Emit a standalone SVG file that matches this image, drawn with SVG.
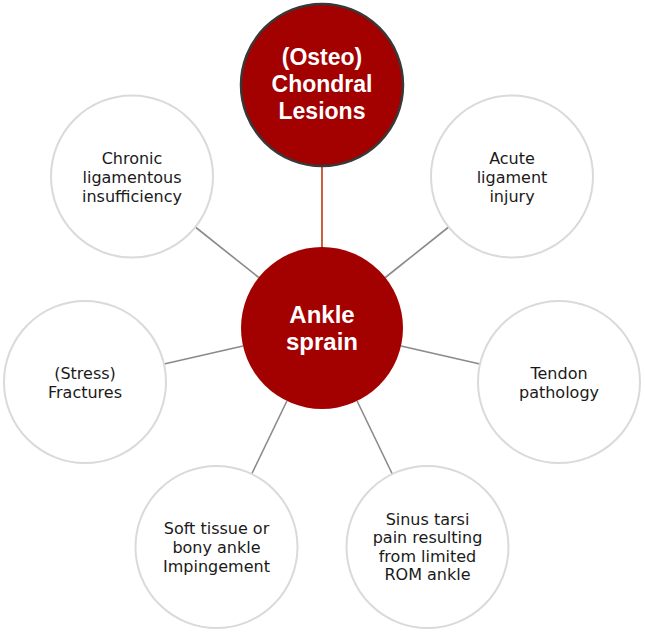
<svg xmlns="http://www.w3.org/2000/svg" width="645" height="634" viewBox="0 0 645 634">
<style>
.bg{fill:#ffffff}
.conn{stroke:#8a8a8a;stroke-width:1.6;fill:none}
.conn-red{stroke:#c4502a;stroke-width:1.8;fill:none}
.outer{fill:#ffffff;stroke:#dadada;stroke-width:2}
.hub{fill:#a30000;stroke:none}
.top{fill:#a30000;stroke:#383838;stroke-width:2.5}
.lbl{font-family:"DejaVu Sans","Liberation Sans",sans-serif;font-size:16px;fill:#1a1a1a;text-anchor:middle}
.blbl{font-family:"Liberation Sans",Arial,sans-serif;font-weight:bold;fill:#ffffff;text-anchor:middle}
</style>
<rect class="bg" x="0" y="0" width="645" height="634"/>
<g id="connectors">
<line class="conn-red" x1="322" y1="247" x2="322" y2="166"/>
<line class="conn" x1="385.3" y1="277.5" x2="448.7" y2="227"/>
<line class="conn" x1="401" y1="346" x2="479.9" y2="364"/>
<line class="conn" x1="357.1" y1="401" x2="392.3" y2="474"/>
<line class="conn" x1="286.9" y1="401" x2="251.7" y2="474"/>
<line class="conn" x1="243" y1="346" x2="164.1" y2="364"/>
<line class="conn" x1="258.7" y1="277.5" x2="195.3" y2="227"/>
</g>
<g id="node-osteo">
<circle class="top" cx="322" cy="85" r="81"/>
<text class="blbl" font-size="23" x="322" y="65">(Osteo)</text>
<text class="blbl" font-size="23" x="322" y="92">Chondral</text>
<text class="blbl" font-size="23" x="322" y="118.5">Lesions</text>
</g>
<g id="node-hub">
<circle class="hub" cx="322" cy="328" r="81"/>
<text class="blbl" font-size="24" x="322" y="323">Ankle</text>
<text class="blbl" font-size="24" x="322" y="350">sprain</text>
</g>
<g id="node-acute">
<circle class="outer" cx="512" cy="176.5" r="81"/>
<text class="lbl" x="512" y="163.5">Acute</text>
<text class="lbl" x="512" y="182.5">ligament</text>
<text class="lbl" x="512" y="201.5">injury</text>
</g>
<g id="node-tendon">
<circle class="outer" cx="559" cy="382" r="81"/>
<text class="lbl" x="559" y="379">Tendon</text>
<text class="lbl" x="559" y="398">pathology</text>
</g>
<g id="node-sinus">
<circle class="outer" cx="427.5" cy="547" r="81"/>
<text class="lbl" x="427.5" y="524.5">Sinus tarsi</text>
<text class="lbl" x="427.5" y="543">pain resulting</text>
<text class="lbl" x="427.5" y="561.5">from limited</text>
<text class="lbl" x="427.5" y="580">ROM ankle</text>
</g>
<g id="node-soft">
<circle class="outer" cx="216.5" cy="547" r="81"/>
<text class="lbl" x="216.5" y="534">Soft tissue or</text>
<text class="lbl" x="216.5" y="553">bony ankle</text>
<text class="lbl" x="216.5" y="572">Impingement</text>
</g>
<g id="node-stress">
<circle class="outer" cx="85" cy="382" r="81"/>
<text class="lbl" x="85" y="379">(Stress)</text>
<text class="lbl" x="85" y="398">Fractures</text>
</g>
<g id="node-chronic">
<circle class="outer" cx="132" cy="176.5" r="81"/>
<text class="lbl" x="132" y="163.5">Chronic</text>
<text class="lbl" x="132" y="182.5">ligamentous</text>
<text class="lbl" x="132" y="201.5">insufficiency</text>
</g>
</svg>
